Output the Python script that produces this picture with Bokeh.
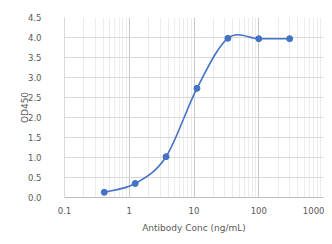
import math
from bokeh.plotting import figure
from bokeh.models import FixedTicker, SingleIntervalTicker, PrintfTickFormatter
from bokeh.embed import file_html
from bokeh.resources import INLINE

# data
conc = [0.4115, 1.235, 3.704, 11.11, 33.33, 100.0, 300.0]
od450 = [0.13, 0.35, 1.02, 2.73, 3.98, 3.97, 3.97]
x_tick_values = [0.1, 1, 10, 100, 1000]
x_tick_labels = ["0.1", "1", "10", "100", "1000"]

BLUE = "#4472C4"
TXT = "#595959"
FONT = "DejaVu Sans"

p = figure(frame_width=259, frame_height=180, x_axis_type="log", x_range=(0.1, 1000), y_range=(0, 4.5),
           output_backend="svg", toolbar_location=None,
           min_border_left=64, min_border_right=1, min_border_top=17, min_border_bottom=39)
p.outline_line_color = None
p.background_fill_color = "white"
p.border_fill_color = "white"

# smoothed line (Excel-style Catmull-Rom bezier, computed in screen-proportional space)
sx, sy = 64.7, 40.0
X = [math.log10(c) * sx for c in conc]
Y = [v * sy for v in od450]
n = len(X)
x0, y0, x1, y1, cx0, cy0, cx1, cy1 = [], [], [], [], [], [], [], []
for i in range(n - 1):
    pm = max(i - 1, 0)
    pp = min(i + 2, n - 1)
    ax = X[i] + (X[i + 1] - X[pm]) / 6
    ay = Y[i] + (Y[i + 1] - Y[pm]) / 6
    bx = X[i + 1] - (X[pp] - X[i]) / 6
    by = Y[i + 1] - (Y[pp] - Y[i]) / 6
    x0.append(conc[i]); y0.append(od450[i])
    x1.append(conc[i + 1]); y1.append(od450[i + 1])
    cx0.append(10 ** (ax / sx)); cy0.append(ay / sy)
    cx1.append(10 ** (bx / sx)); cy1.append(by / sy)
p.bezier(x0=x0, y0=y0, x1=x1, y1=y1, cx0=cx0, cy0=cy0, cx1=cx1, cy1=cy1,
         line_color=BLUE, line_width=1.6)
p.scatter(conc, od450, size=6, color=BLUE)

# x axis
minor = [m * d for d in [0.1, 1, 10, 100] for m in range(2, 10)]
p.xaxis.ticker = FixedTicker(ticks=x_tick_values, minor_ticks=minor)
p.xaxis.major_label_overrides = {v: l for v, l in zip(x_tick_values, x_tick_labels)}
p.xaxis.axis_label = "Antibody Conc (ng/mL)"
p.xaxis.axis_line_color = "#bfbfbf"
p.xaxis.major_tick_line_color = None
p.xaxis.minor_tick_line_color = None
p.xaxis.major_label_standoff = 3
p.xaxis.axis_label_standoff = 6

# y axis
p.yaxis.ticker = SingleIntervalTicker(interval=0.5, num_minor_ticks=0)
p.yaxis.formatter = PrintfTickFormatter(format="%.1f")
p.yaxis.axis_label = "OD450"
p.yaxis.axis_line_color = "#d9d9d9"
p.yaxis.major_tick_line_color = None
p.yaxis.minor_tick_line_color = None
p.yaxis.major_label_standoff = 17
p.yaxis.axis_label_standoff = -5

for ax in (p.xaxis, p.yaxis):
    ax.major_label_text_font = FONT
    ax.major_label_text_font_size = "8.5px"
    ax.major_label_text_color = TXT
    ax.axis_label_text_font = FONT
    ax.axis_label_text_font_size = "9px"
    ax.axis_label_text_color = TXT
    ax.axis_label_text_font_style = "normal"

p.xgrid.grid_line_color = "#c8c8c8"
p.xgrid.minor_grid_line_color = "#ececec"
p.ygrid.grid_line_color = "#d9d9d9"

open("out.html", "w").write(file_html(p, INLINE))
